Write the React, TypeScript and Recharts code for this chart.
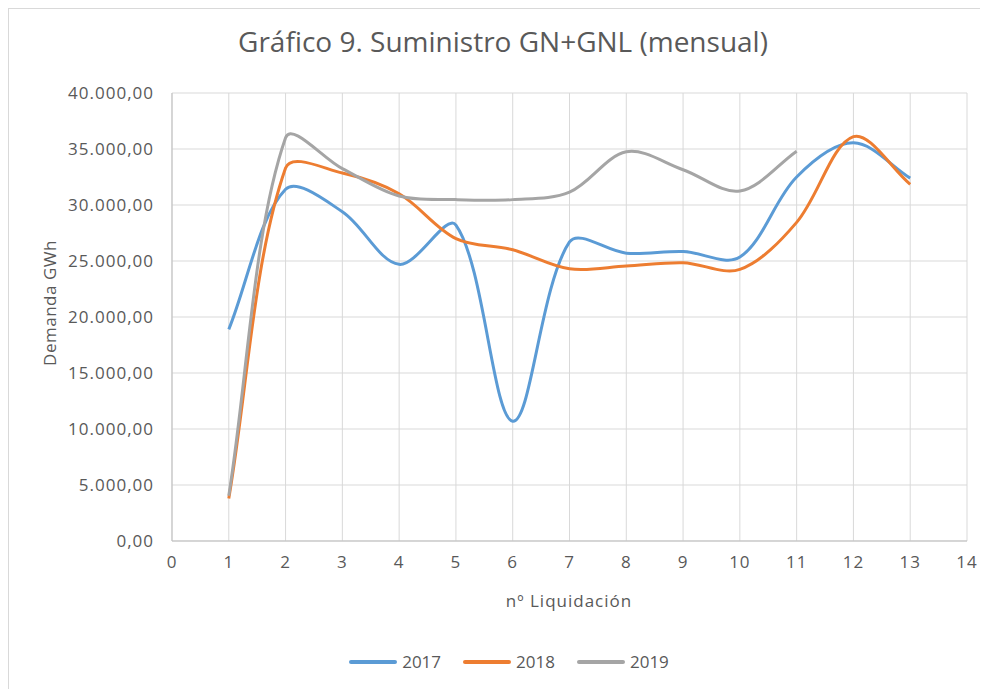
import React from "react";
import { LineChart, Line, XAxis, YAxis, CartesianGrid, Legend } from "recharts";

const liquidaciones = [1, 2, 3, 4, 5, 6, 7, 8, 9, 10, 11, 12, 13];
const serie2017 = [18900, 31400, 29400, 24700, 28200, 10700, 26700, 25700, 25850, 25350, 32500, 35550, 32400];
const serie2018 = [3800, 33300, 32850, 31000, 27000, 26000, 24300, 24550, 24850, 24250, 28450, 36100, 31850];
const serie2019 = [4050, 36000, 33250, 30800, 30480, 30480, 31150, 34750, 33150, 31250, 34800];

const xTicks = [0, 1, 2, 3, 4, 5, 6, 7, 8, 9, 10, 11, 12, 13, 14];
const yTicks = [0, 5000, 10000, 15000, 20000, 25000, 30000, 35000, 40000];

const SERIES = [
  { key: "2017", color: "#5b9bd5" },
  { key: "2018", color: "#ed7d31" },
  { key: "2019", color: "#a5a5a5" },
];

const FONT = "'Open Sans', sans-serif";
const TEXT = "#595959";

const data = liquidaciones.map((n, i) => ({
  n,
  "2017": serie2017[i],
  "2018": serie2018[i],
  "2019": serie2019[i],
}));

// es-ES style: 40.000,00
const fmt = (v: number) => {
  const [ent, dec] = v.toFixed(2).split(".");
  return ent.replace(/\B(?=(\d{3})+(?!\d))/g, ".") + "," + dec;
};

// Excel-like smoothed line: bezier handles weighted by segment lengths
const excelSmooth = (context: any) => {
  let pts: [number, number][] = [];
  const dist = (a: [number, number], b: [number, number]) => Math.hypot(b[0] - a[0], b[1] - a[1]);
  return {
    areaStart() {},
    areaEnd() {},
    lineStart() {
      pts = [];
    },
    point(x: number, y: number) {
      pts.push([+x, +y]);
    },
    lineEnd() {
      if (!pts.length) return;
      context.moveTo(pts[0][0], pts[0][1]);
      for (let i = 0; i < pts.length - 1; i++) {
        const p0 = pts[Math.max(i - 1, 0)];
        const p1 = pts[i];
        const p2 = pts[i + 1];
        const p3 = pts[Math.min(i + 2, pts.length - 1)];
        const d01 = dist(p0, p1);
        const d12 = dist(p1, p2);
        const d23 = dist(p2, p3);
        const k1 = d01 + d12 > 0 ? d12 / (d01 + d12) / 3 : 0;
        const k2 = d12 + d23 > 0 ? d12 / (d12 + d23) / 3 : 0;
        context.bezierCurveTo(
          p1[0] + (p2[0] - p0[0]) * k1,
          p1[1] + (p2[1] - p0[1]) * k1,
          p2[0] - (p3[0] - p1[0]) * k2,
          p2[1] - (p3[1] - p1[1]) * k2,
          p2[0],
          p2[1]
        );
      }
    },
  };
};

const renderLegend = () => (
  <div style={{ display: "flex", justifyContent: "center", gap: 22, fontFamily: FONT, fontSize: 17, color: TEXT }}>
    {SERIES.map((s) => (
      <div key={s.key} style={{ display: "flex", alignItems: "center", gap: 5 }}>
        <span style={{ display: "inline-block", width: 48, height: 4, background: s.color, borderRadius: 2 }} />
        <span>{s.key}</span>
      </div>
    ))}
  </div>
);

const tickStyle = { fill: TEXT, fontSize: 17, fontFamily: FONT, letterSpacing: 1 };

export default function App() {
  return (
    <div style={{ position: "relative", width: 980, height: 681, borderLeft: "1px solid #d9d9d9", borderTop: "1px solid #d9d9d9", background: "#fff" }}>
      <div style={{ position: "absolute", left: -9, width: 1006, top: 13, textAlign: "center", fontFamily: FONT, fontSize: 28, color: TEXT }}>
        Gráfico 9. Suministro GN+GNL (mensual)
      </div>
      <div
        style={{
          position: "absolute",
          left: 50 - 9 - 70,
          top: 303 - 9 - 12,
          width: 140,
          height: 24,
          lineHeight: "24px",
          textAlign: "center",
          transform: "rotate(-90deg)",
          fontFamily: FONT,
          fontSize: 17,
          letterSpacing: 0.5,
          color: TEXT,
        }}
      >
        Demanda GWh
      </div>
      <div style={{ position: "absolute", left: 0, width: 1120, top: 580, textAlign: "center", fontFamily: FONT, fontSize: 17, letterSpacing: 1, color: TEXT }}>
        nº Liquidación
      </div>
      <LineChart width={971} height={680} data={data} margin={{ top: 84, right: 13, left: 0, bottom: 108 }}>
        <CartesianGrid stroke="#d9d9d9" strokeWidth={1} />
        <XAxis
          dataKey="n"
          type="number"
          domain={[0, 14]}
          ticks={xTicks}
          interval={0}
          height={40}
          axisLine={{ stroke: "#bfbfbf" }}
          tickLine={false}
          tickSize={0}
          tickMargin={15}
          tick={tickStyle}
        />
        <YAxis
          type="number"
          domain={[0, 40000]}
          ticks={yTicks}
          interval={0}
          width={163}
          axisLine={{ stroke: "#bfbfbf" }}
          tickLine={false}
          tickSize={0}
          tickMargin={18}
          tickFormatter={fmt}
          tick={tickStyle}
        />
        {SERIES.map((s) => (
          <Line
            key={s.key}
            dataKey={s.key}
            name={s.key}
            type={excelSmooth as any}
            stroke={s.color}
            strokeWidth={3}
            dot={false}
            activeDot={false}
            isAnimationActive={false}
          />
        ))}
        <Legend verticalAlign="middle" content={renderLegend} wrapperStyle={{ top: 641, left: 0, width: 1000 }} />
      </LineChart>
    </div>
  );
}
